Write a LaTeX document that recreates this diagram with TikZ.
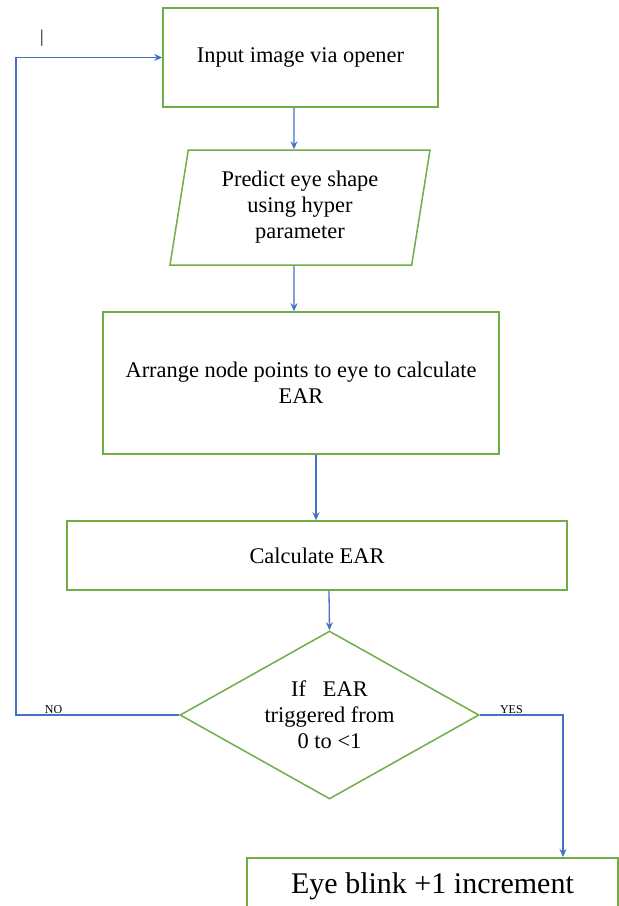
\documentclass[tikz,border=0pt]{standalone}
\usepackage{fontspec}
\setmainfont{Liberation Serif}
\usetikzlibrary{arrows.meta}
\usetikzlibrary{shapes.geometric}
\definecolor{boxgreen}{RGB}{112,173,71}
\definecolor{linkblue}{RGB}{68,114,196}

\begin{document}
\begin{tikzpicture}[x=1pt,y=-1pt,
  box/.style={draw=boxgreen, line width=1.5pt, inner sep=0pt, align=center, font=\fontsize{22.4}{26}\selectfont},
  link/.style={draw=linkblue, line width=1.3pt, -{Stealth[length=8pt,width=7pt]}},
  tag/.style={inner sep=1pt, font=\fontsize{12}{12}\selectfont}]
    \useasboundingbox (0,0) rectangle (619,906);
    \clip (0,0) rectangle (619,906);
    % steps
    \node[box, minimum width=275pt, minimum height=99pt] (input) at (300.5,57.5) {Input image via opener};
    \node[box, trapezium, trapezium left angle=75.8, trapezium right angle=104.2, trapezium stretches body,
          minimum width=260pt, minimum height=115pt] (predict) at (300,207.5) {Predict eye shape\\using hyper\\parameter};
    \node[box, minimum width=396pt, minimum height=142pt] (arrange) at (301,383) {Arrange node points to eye to calculate\\EAR};
    \node[box, minimum width=500pt, minimum height=69pt] (calc) at (317,555.5) {Calculate EAR};
    \node[box, diamond, aspect=1.78, minimum width=299pt, minimum height=168pt] (check) at (329.5,715) {If\ \ \ EAR\\triggered from\\0 to <1};
    \node[box, anchor=north, minimum width=371pt, font=\fontsize{30}{36}\selectfont,
          text height=21pt, text depth=8pt, inner ysep=15pt] (blink) at (432.5,857) {Eye blink +1 increment};
    \node[font=\fontsize{18}{18}\selectfont] (cursor) at (42,38) {|};
    % arrows
    \draw[link] ([xshift=-6.5pt]input.south) -- ([xshift=-6pt]predict.north);
    \draw[link] ([xshift=-6pt]predict.south) -- ([xshift=-7pt]arrange.north);
    \draw[link] ([xshift=15pt]arrange.south) -- ([xshift=-1pt]calc.north);
    \draw[link] ([xshift=12pt]calc.south) -- (check.north);
    % decision
    \coordinate (noturn) at (16,715);
    \draw[link] (check.west) -- node[tag, pos=0.77, above] {NO} (noturn) |- (input.west);
    \draw[link] (check.east) -| node[tag, pos=0.19, above] {YES} ([xshift=130.5pt]blink.north);
\end{tikzpicture}
\end{document}
